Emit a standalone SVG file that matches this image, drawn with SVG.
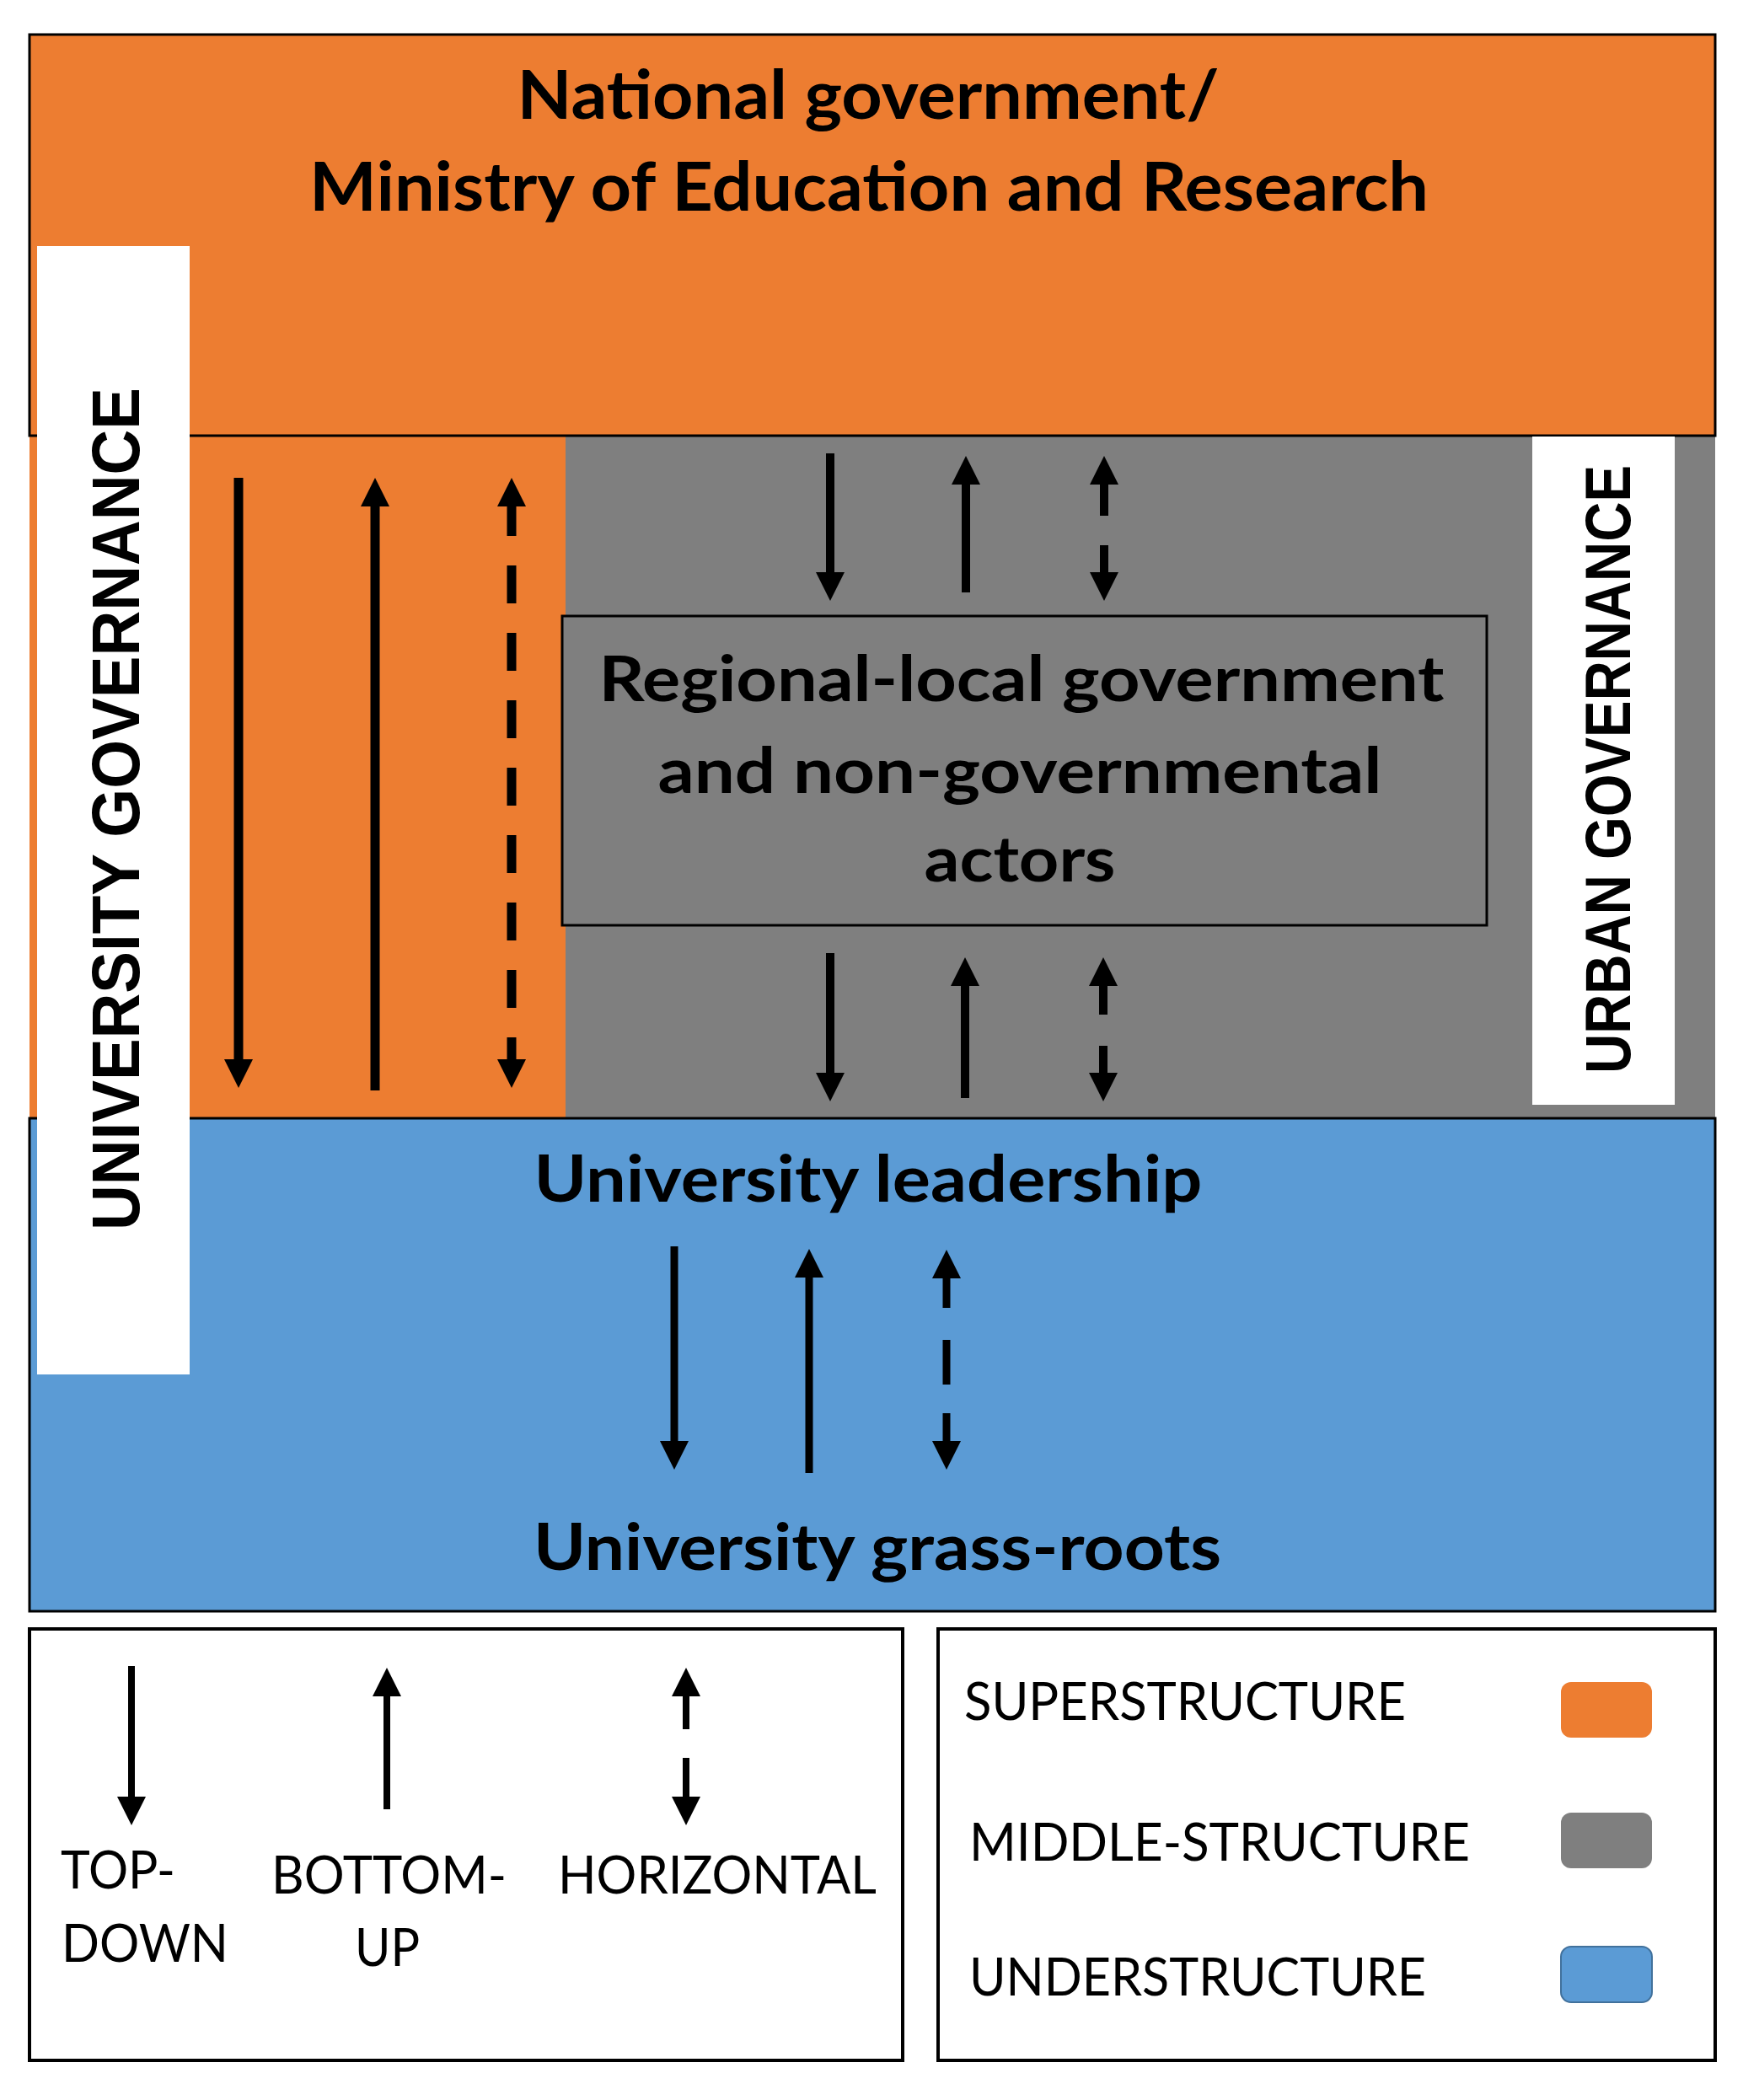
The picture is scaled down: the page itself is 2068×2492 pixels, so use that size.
<svg xmlns="http://www.w3.org/2000/svg" width="2068" height="2492" viewBox="0 0 2068 2492">
  <style>
    .orange{fill:#ED7D31}
    .gray{fill:#7F7F7F}
    .blue{fill:#5B9BD5}
    .frame{stroke:#000;stroke-width:3}
    .bold{font-family:Lato,"Liberation Sans",sans-serif;font-weight:700;fill:#000}
    .vert{font-family:"Liberation Sans",Arial,sans-serif;font-weight:700;fill:#000}
    .leg{font-family:Lato,"Liberation Sans",sans-serif;font-weight:400;fill:#000}
    .arr{stroke:#000;fill:none}
  </style>
  <defs>
    <marker id="ah" markerUnits="userSpaceOnUse" markerWidth="34" markerHeight="34" viewBox="0 0 34 34" refX="10" refY="17" orient="auto-start-reverse">
      <path d="M0,0 L34,17 L0,34 z" fill="#000"/>
    </marker>
  </defs>
  <rect width="2068" height="2492" fill="#fff"/>

  <g id="middle-structure">
    <rect class="orange" x="35" y="517" width="636" height="810"/>
    <rect class="gray" x="671" y="517" width="1364" height="810"/>
  </g>

  <g id="national-government">
    <rect class="orange frame" x="35" y="41" width="2000" height="476"/>
    <text class="bold" x="1030" y="141" font-size="80" text-anchor="middle" textLength="833" lengthAdjust="spacingAndGlyphs">National government/</text>
    <text class="bold" x="1031" y="250" font-size="80" text-anchor="middle" textLength="1328" lengthAdjust="spacingAndGlyphs">Ministry of Education and Research</text>
  </g>

  <g id="university-leadership">
    <rect class="blue frame" x="35" y="1327" width="2000" height="585"/>
    <text class="bold" x="1030" y="1426" font-size="76" text-anchor="middle" textLength="793" lengthAdjust="spacingAndGlyphs">University leadership</text>
  </g>

  <g id="university-grass-roots">
    <text class="bold" x="1041" y="1863" font-size="76" text-anchor="middle" textLength="816" lengthAdjust="spacingAndGlyphs">University grass-roots</text>
  </g>

  <g id="regional-local">
    <rect class="gray frame" x="667" y="731" width="1097" height="367"/>
    <text class="bold" x="1212" y="832" font-size="75" text-anchor="middle" textLength="1003" lengthAdjust="spacingAndGlyphs">Regional-local government</text>
    <text class="bold" x="1210" y="941" font-size="75" text-anchor="middle" textLength="859" lengthAdjust="spacingAndGlyphs">and non-governmental</text>
    <text class="bold" x="1210" y="1046" font-size="75" text-anchor="middle" textLength="227" lengthAdjust="spacingAndGlyphs">actors</text>
  </g>

  <g id="university-governance">
    <rect x="44" y="292" width="181" height="1339" fill="#fff"/>
    <text class="vert" transform="translate(165,960) rotate(-90)" font-size="80" text-anchor="middle" textLength="1000" lengthAdjust="spacingAndGlyphs">UNIVERSITY GOVERNANCE</text>
  </g>

  <g id="urban-governance">
    <rect x="1818" y="518" width="169" height="793" fill="#fff"/>
    <text class="vert" transform="translate(1934,913) rotate(-90)" font-size="76" text-anchor="middle" textLength="722" lengthAdjust="spacingAndGlyphs">URBAN GOVERNANCE</text>
  </g>

  <g id="connectors">
    <line class="arr" x1="283" y1="567" x2="283" y2="1267" stroke-width="11" marker-end="url(#ah)"/>
    <line class="arr" x1="445" y1="1294" x2="445" y2="591" stroke-width="11" marker-end="url(#ah)"/>
    <line class="arr" x1="607" y1="591" x2="607" y2="1267" stroke-width="11" stroke-dasharray="45 35" marker-start="url(#ah)" marker-end="url(#ah)"/>

    <line class="arr" x1="985" y1="538" x2="985" y2="689" stroke-width="10" marker-end="url(#ah)"/>
    <line class="arr" x1="1146" y1="703" x2="1146" y2="565" stroke-width="10" marker-end="url(#ah)"/>
    <line class="arr" x1="1310" y1="565" x2="1310" y2="689" stroke-width="10" stroke-dasharray="47 35 200" marker-start="url(#ah)" marker-end="url(#ah)"/>

    <line class="arr" x1="985" y1="1131" x2="985" y2="1283" stroke-width="10" marker-end="url(#ah)"/>
    <line class="arr" x1="1145" y1="1303" x2="1145" y2="1160" stroke-width="10" marker-end="url(#ah)"/>
    <line class="arr" x1="1309" y1="1160" x2="1309" y2="1283" stroke-width="10" stroke-dasharray="44 37 200" marker-start="url(#ah)" marker-end="url(#ah)"/>

    <line class="arr" x1="800" y1="1479" x2="800" y2="1720" stroke-width="9" marker-end="url(#ah)"/>
    <line class="arr" x1="960" y1="1748" x2="960" y2="1506" stroke-width="9" marker-end="url(#ah)"/>
    <line class="arr" x1="1123" y1="1507" x2="1123" y2="1720" stroke-width="9" stroke-dasharray="45 38 53 34 300" marker-start="url(#ah)" marker-end="url(#ah)"/>
  </g>

  <g id="legend-arrows">
    <rect x="35" y="1933" width="1036" height="512" fill="#fff" stroke="#000" stroke-width="4"/>
    <g id="legend-connectors">
      <line class="arr" x1="156" y1="1977" x2="156" y2="2142" stroke-width="8" marker-end="url(#ah)"/>
      <line class="arr" x1="459" y1="2147" x2="459" y2="2003" stroke-width="8" marker-end="url(#ah)"/>
      <line class="arr" x1="814" y1="2003" x2="814" y2="2142" stroke-width="8" stroke-dasharray="49 34 200" marker-start="url(#ah)" marker-end="url(#ah)"/>
    </g>
    <text class="leg" x="72" y="2241" font-size="62" textLength="136" lengthAdjust="spacingAndGlyphs">TOP-</text>
    <text class="leg" x="73" y="2328" font-size="62" textLength="198" lengthAdjust="spacingAndGlyphs">DOWN</text>
    <text class="leg" x="322" y="2247" font-size="62" textLength="279" lengthAdjust="spacingAndGlyphs">BOTTOM-</text>
    <text class="leg" x="421" y="2333" font-size="62" textLength="77" lengthAdjust="spacingAndGlyphs">UP</text>
    <text class="leg" x="662" y="2247" font-size="62" textLength="378" lengthAdjust="spacingAndGlyphs">HORIZONTAL</text>
  </g>

  <g id="legend-colours">
    <rect x="1113" y="1933" width="922" height="512" fill="#fff" stroke="#000" stroke-width="4"/>
    <text class="leg" x="1144" y="2041" font-size="62" textLength="524" lengthAdjust="spacingAndGlyphs">SUPERSTRUCTURE</text>
    <text class="leg" x="1150" y="2208" font-size="62" textLength="594" lengthAdjust="spacingAndGlyphs">MIDDLE-STRUCTURE</text>
    <text class="leg" x="1150" y="2368" font-size="62" textLength="542" lengthAdjust="spacingAndGlyphs">UNDERSTRUCTURE</text>
    <rect class="orange" x="1852" y="1996" width="108" height="66" rx="12"/>
    <rect class="gray" x="1852" y="2151" width="108" height="66" rx="12"/>
    <rect class="blue" x="1852" y="2310" width="108" height="66" rx="12" stroke="#41719C" stroke-width="2"/>
  </g>
</svg>
